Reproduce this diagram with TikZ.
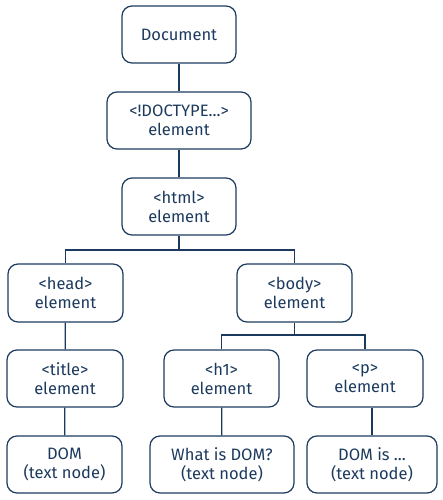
\documentclass[tikz,border=0pt]{standalone}
\usepackage{fontspec}
\setmainfont{Fira Sans}
\definecolor{navy}{RGB}{28,58,94}
\begin{document}
\begin{tikzpicture}[x=1pt,y=-1pt,
  box/.style={draw=navy, line width=1.2pt, rounded corners=10pt, text=navy,
    align=center, inner sep=0pt, minimum height=57pt,
    font=\fontsize{16.5}{19}\selectfont},
  link/.style={draw=navy, line width=1.2pt}]
\useasboundingbox (0,0) rectangle (442,500);
\node[box, minimum width=114pt] (doc) at (179,34.5) {Document};
\node[box, minimum width=144pt] (doctype) at (179,120.5) {<!DOCTYPE...>\\element};
\node[box, minimum width=114pt] (html) at (179,206.5) {<html>\\element};
\node[box, minimum width=115pt, minimum height=58pt] (head) at (65.5,293) {<head>\\element};
\node[box, minimum width=115pt, minimum height=58pt] (body) at (294.5,293) {<body>\\element};
\node[box, minimum width=116pt] (title) at (65,378.5) {<title>\\element};
\node[box, minimum width=115pt] (h1) at (221.5,378.5) {<h1>\\element};
\node[box, minimum width=116pt] (p) at (365,378.5) {<p>\\element};
\node[box, minimum width=115pt] (t1) at (64.5,464.5) {DOM\\(text node)};
\node[box, minimum width=144pt] (t2) at (222,464.5) {What is DOM?\\(text node)};
\node[box, minimum width=130pt] (t3) at (372,464.5) {DOM is ...\\(text node)};
\coordinate (b1) at (179,250);
\coordinate (b2) at (294.5,335);
\draw[link] (doc) -- (doctype);
\draw[link] (doctype) -- (html);
\draw[link] (html.south) -- (b1);
\draw[link] (head.north) |- (b1) -| (body.north);
\draw[link] (head) -- (title);
\draw[link] (title) -- (t1);
\draw[link] (body.south) -- (b2);
\draw[link] (h1.north) |- (b2) -| (p.north);
\draw[link] (h1) -- (t2);
\draw[link] (t3.north) -- (t3.north |- p.south);
\end{tikzpicture}
\end{document}
